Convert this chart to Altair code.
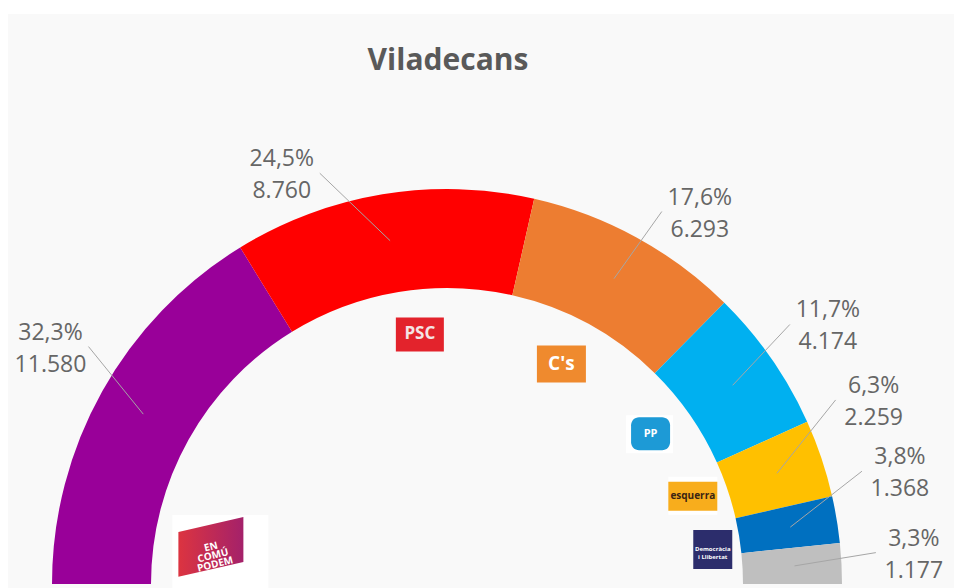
import math
import pandas as pd
import altair as alt

# ---------------- data ----------------
PARTIES = ["En Comú Podem", "PSC", "C's", "PP", "ERC", "DiL", "Otros"]
PCT = [32.3, 24.5, 17.6, 11.7, 6.3, 3.8, 3.3]
VOTES = [11580, 8760, 6293, 4174, 2259, 1368, 1177]
COLORS = ["#990099", "#ff0000", "#ed7d31", "#00b0f0", "#ffc000", "#0070c0", "#bfbfbf"]

# ---------------- layout / style (annotations) ----------------
LABEL_NUDGE = [4.3, -7.8, 1.3, -2.3, -6.8, -5.8, -1.2]      # degrees along the ring
LOGO_NUDGE = [-20.3, 3.2, -1.2, -1.6, -1.1, 2.0, 0.0]       # degrees
LOGO_RADIUS = [239, 251, 248, 253, 261, 268, 0]
LOGO_KIND = ["ecp", "rect", "rect", "round", "rect", "rect", "none"]
LOGO_FILL = ["#c8294f", "#e3232c", "#ef8a2e", "#1d9ad6", "#f8ad1c", "#2c2d6c", "#ffffff"]
LOGO_W = [65, 48, 49, 39, 49, 39, 0]
LOGO_H = [60, 34, 37, 33, 29, 39, 0]
LOGO_BG_W = [96, 0, 0, 47, 49, 0, 0]
LOGO_BG_H = [73, 0, 0, 38, 38, 0, 0]
LOGO_BG_DX = [9.5, 0, 0, -1, 0, 0, 0]
LOGO_BG_DY = [4.5, 0, 0, 0.5, -0.5, 0, 0]
LOGO_TEXT = ["EN\nCOMÚ\nPODEM", "PSC", "C's", "PP", "esquerra", "Democràcia\ni Llibertat", ""]
LOGO_TEXT_COLOR = ["#ffffff", "#f4e4e4", "#ffffff", "#ffffff", "#3b2413", "#ffffff", "#ffffff"]
LOGO_TEXT_SIZE = [10, 17, 19, 11, 10, 6, 0]

W, H = 946, 580
CX, CY = 439, 576
R_OUT, R_IN = 395, 296
LEAD_IN, LEAD_OUT = 348, 430
LABEL_GAP = 38

df = pd.DataFrame({
    "party": PARTIES,
    "idx": list(range(len(PARTIES))),
    "pct": PCT,
    "votes": VOTES,
    "pct_label": [f"{p:.1f}".replace(".", ",") + "%" for p in PCT],
    "votes_label": [f"{v:,}".replace(",", ".") for v in VOTES],
    "lnudge": LABEL_NUDGE,
    "gnudge": LOGO_NUDGE,
    "grad": LOGO_RADIUS,
    "gkind": LOGO_KIND,
    "gfill": LOGO_FILL,
    "gw": LOGO_W,
    "gh": LOGO_H,
    "bw": LOGO_BG_W,
    "bh": LOGO_BG_H,
    "bdx": LOGO_BG_DX,
    "bdy": LOGO_BG_DY,
    "gtext": LOGO_TEXT,
    "gtcolor": LOGO_TEXT_COLOR,
    "gfs": LOGO_TEXT_SIZE,
})


def base():
    return (
        alt.Chart(df)
        .transform_window(cum="sum(pct)", sort=[alt.SortField("idx", order="ascending")], frame=[None, 0])
        .transform_joinaggregate(total="sum(pct)")
        .transform_calculate(mid="(datum.cum - datum.pct/2)/datum.total*PI - PI/2")
        .transform_calculate(
            ix=f"{CX} + {LEAD_IN}*sin(datum.mid)",
            iy=f"{CY} - {LEAD_IN}*cos(datum.mid)",
            la="datum.mid + datum.lnudge*PI/180",
            ga="datum.mid + datum.gnudge*PI/180",
        )
        .transform_calculate(
            ox=f"{CX} + {LEAD_OUT}*sin(datum.la)",
            oy=f"{CY} - {LEAD_OUT}*cos(datum.la)",
            gx=f"{CX} + datum.grad*sin(datum.ga)",
            gy=f"{CY} - datum.grad*cos(datum.ga)",
        )
        .transform_calculate(
            tx=f"datum.ox + (datum.mid < 0 ? -{LABEL_GAP} : {LABEL_GAP})",
            ty="datum.oy + 2",
            gx1="datum.gx - datum.gw/2",
            gx2="datum.gx + datum.gw/2",
            gy1="datum.gy - datum.gh/2",
            gy2="datum.gy + datum.gh/2",
            bx1="datum.gx + datum.bdx - datum.bw/2",
            bx2="datum.gx + datum.bdx + datum.bw/2",
            by1="datum.gy + datum.bdy - datum.bh/2",
            by2="datum.gy + datum.bdy + datum.bh/2",
        )
    )


def X(f):
    return alt.X(f, type="quantitative", scale=None, axis=None)


def Y(f):
    return alt.Y(f, type="quantitative", scale=None, axis=None)


one = pd.DataFrame({"k": [0]})

panel = alt.Chart(one).mark_rect(color="#f9f9f9").encode(
    x=alt.value(0), x2=alt.value(W), y=alt.value(6), y2=alt.value(H)
)

title = alt.Chart(one).mark_text(
    text="Viladecans", font="Open Sans", fontWeight="bold", fontSize=30,
    color="#595959", align="center", baseline="middle"
).encode(x=alt.value(440), y=alt.value(53))

arcs = alt.Chart(df).mark_arc(radius=R_OUT, radius2=R_IN).encode(
    theta=alt.Theta("pct:Q", stack=True,
                    scale=alt.Scale(range=[-math.pi / 2, math.pi / 2], nice=False, zero=True)),
    color=alt.Color("party:N", scale=alt.Scale(domain=PARTIES, range=COLORS), legend=None),
    order=alt.Order("idx:Q"),
    x=alt.value(CX),
    y=alt.value(CY),
)

leaders = base().mark_rule(color="#a6a6a6", strokeWidth=1).encode(
    x=X("ix"), y=Y("iy"), x2="ox:Q", y2="oy:Q"
)

label_style = dict(font="Open Sans", fontSize=23, color="#666666", align="center", baseline="middle")
lab1 = base().mark_text(dy=-16, **label_style).encode(x=X("tx"), y=Y("ty"), text="pct_label:N")
lab2 = base().mark_text(dy=16, **label_style).encode(x=X("tx"), y=Y("ty"), text="votes_label:N")

logo_bg = base().transform_filter("datum.bw > 0").mark_rect(color="#ffffff").encode(
    x=X("bx1"), x2="bx2:Q", y=Y("by1"), y2="by2:Q"
)

logo_rect = base().transform_filter("datum.gkind == 'rect'").mark_rect().encode(
    x=X("gx1"), x2="gx2:Q", y=Y("gy1"), y2="gy2:Q",
    color=alt.Color("gfill:N", scale=None),
)

logo_round = base().transform_filter("datum.gkind == 'round'").mark_rect(cornerRadius=8).encode(
    x=X("gx1"), x2="gx2:Q", y=Y("gy1"), y2="gy2:Q",
    color=alt.Color("gfill:N", scale=None),
)

ecp_grad = alt.LinearGradient(
    gradient="linear",
    stops=[alt.GradientStop(color="#dc3440", offset=0), alt.GradientStop(color="#a4216a", offset=1)],
    x1=0, x2=1, y1=0, y2=0,
)
logo_ecp = base().transform_filter("datum.gkind == 'ecp'").mark_point(
    shape="M -1 -0.46 L 1 -0.92 L 1 0.46 L -1 0.92 Z",
    size=65 * 65, filled=True, opacity=1, color=ecp_grad, strokeWidth=0,
).encode(x=X("gx"), y=Y("gy"))

logo_text = base().transform_filter("datum.gkind != 'ecp' && datum.gkind != 'none'").mark_text(
    font="Open Sans", fontWeight="bold", align="center", baseline="middle", lineBreak="\n"
).encode(
    x=X("gx"), y=Y("gy"), text="gtext:N",
    color=alt.Color("gtcolor:N", scale=None),
    size=alt.Size("gfs:Q", scale=None),
)

ecp_text = base().transform_filter("datum.gkind == 'ecp'").mark_text(
    font="Open Sans", fontWeight="bold", align="center", baseline="middle",
    lineBreak="\n", angle=346, fontSize=10, color="#ffffff", lineHeight=9,
).encode(x=X("gx"), y=Y("gy"), text="gtext:N")

chart = alt.layer(
    panel, title, arcs, leaders, lab1, lab2,
    logo_bg, logo_rect, logo_round, logo_ecp, logo_text, ecp_text,
).properties(
    width=W, height=H, padding=0, autosize="none", background="#ffffff"
).configure_view(stroke=None)

chart.save("out.html", embed_options={"renderer": "svg", "actions": False})
